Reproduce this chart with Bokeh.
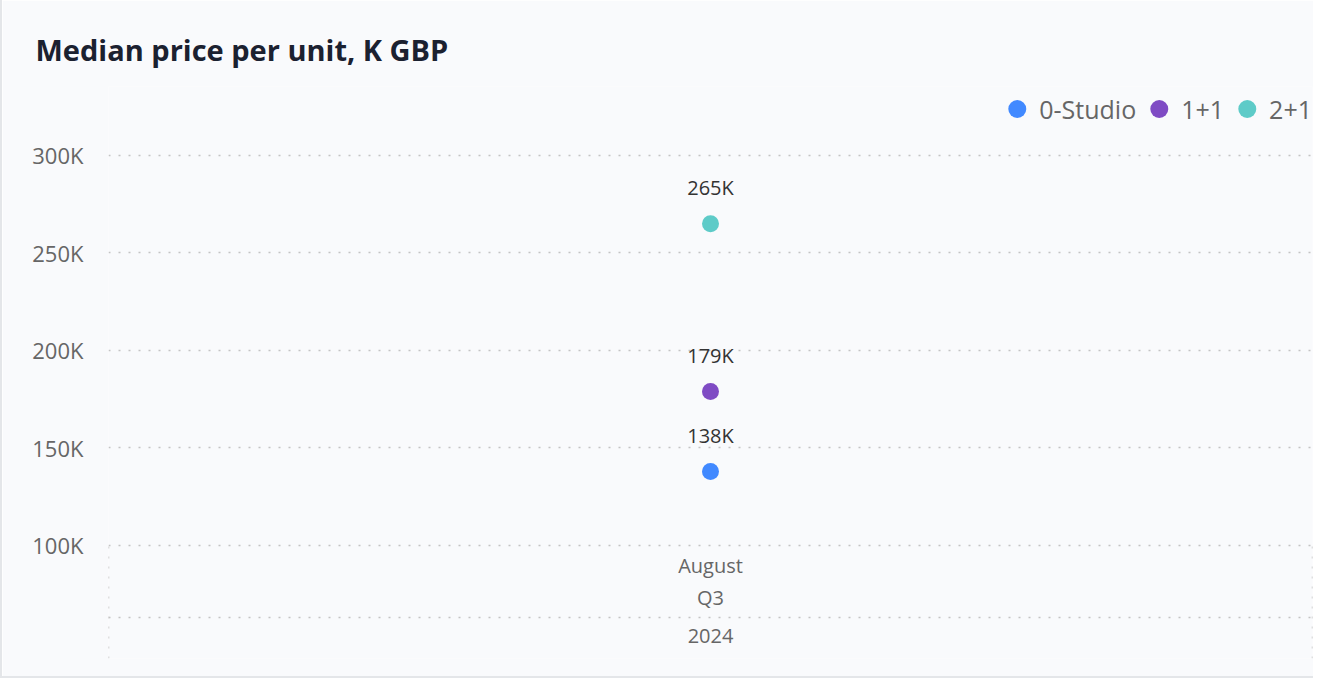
from bokeh.plotting import figure
from bokeh.models import Range1d, FixedTicker, CustomJSTickFormatter, Legend, LegendItem, Span, ColumnDataSource
from bokeh.core.properties import value
from bokeh.embed import file_html
from bokeh.resources import INLINE

# ---- data ----
series = ["0-Studio", "1+1", "2+1"]
values_k = [138, 179, 265]
colors = ["#4189FF", "#7F4BC4", "#5ECBC8"]
cat_levels = ["August", "Q3", "2024"]
y_ticks = [100, 150, 200, 250, 300]

FONT = "Open Sans"
BG = "#f9fafc"
GRID = "#c4c4c4"

# frame geometry (layout only)
y_lo, y_hi = 42.05, 335.38
sep_level = 63.08

p = figure(width=1313, height=678, output_backend="svg", toolbar_location=None,
           x_range=Range1d(0, 1), y_range=Range1d(y_lo, y_hi),
           min_border_left=106, min_border_right=3, min_border_top=86, min_border_bottom=20)
p.background_fill_color = BG
p.border_fill_color = BG
p.outline_line_color = None
p.styles = {"border-bottom": "2px solid #e4e6e9", "border-left": "2px solid #e4e6e9"}

p.title.text = "Median price per unit, K GBP"
p.title.text_font = FONT
p.title.text_font_size = "29px"
p.title.text_font_style = "bold"
p.title.text_color = "#1b2130"
p.title.align = "left"
p.title.offset = -73
p.title.standoff = 35

p.xaxis.visible = False
p.xgrid.visible = False

ax = p.yaxis[0]
ax.ticker = FixedTicker(ticks=y_ticks)
ax.formatter = CustomJSTickFormatter(code="return tick + 'K';")
ax.axis_line_color = None
ax.major_tick_line_color = None
ax.minor_tick_line_color = None
ax.major_label_standoff = 19
ax.major_label_text_font = FONT
ax.major_label_text_font_size = "22px"
ax.major_label_text_color = "#666666"

g = p.ygrid[0]
g.ticker = FixedTicker(ticks=y_ticks)
g.grid_line_color = GRID
g.grid_line_dash = "2 8"
g.grid_line_width = 1.5

# separator lines of the category axis area
p.add_layout(Span(location=sep_level, dimension="width", line_color=GRID,
                  line_dash="2 8", line_width=1.5))
p.segment(x0=[0, 1], x1=[0, 1], y0=[y_lo, y_lo], y1=[y_ticks[0], y_ticks[0]],
          line_color=GRID, line_dash="2 8", line_width=1.5)

# points
src = ColumnDataSource(dict(x=[0.5] * len(series), y=values_k, color=colors,
                            name=series, label=[f"{v}K" for v in values_k]))
items = []
for i, s in enumerate(series):
    r = p.scatter(x=[0.5], y=[values_k[i]], size=17, color=colors[i], line_color=None)
    items.append(LegendItem(label=s, renderers=[r]))

p.text(x="x", y="y", text="label", source=src, y_offset=-36,
       text_align="center", text_baseline="middle",
       text_font=value(FONT), text_font_size="20px", text_color="#333333")

# category labels
offsets = [20, 52, 91]
p.text(x=[0.5] * 3, y=[y_ticks[0]] * 3, text=cat_levels, y_offset=offsets,
       text_align="center", text_baseline="middle",
       text_font=value(FONT), text_font_size="20px", text_color="#666666")

legend = Legend(items=items, location="top_right", orientation="horizontal")
legend.background_fill_alpha = 0
legend.border_line_color = None
legend.label_text_font = FONT
legend.label_text_font_size = "25px"
legend.label_text_color = "#666666"
legend.glyph_width = 45
legend.glyph_height = 45
legend.label_standoff = 0
legend.spacing = 0
legend.margin = 0
legend.padding = 0
p.add_layout(legend)

open("out.html", "w").write(file_html(p, INLINE))
